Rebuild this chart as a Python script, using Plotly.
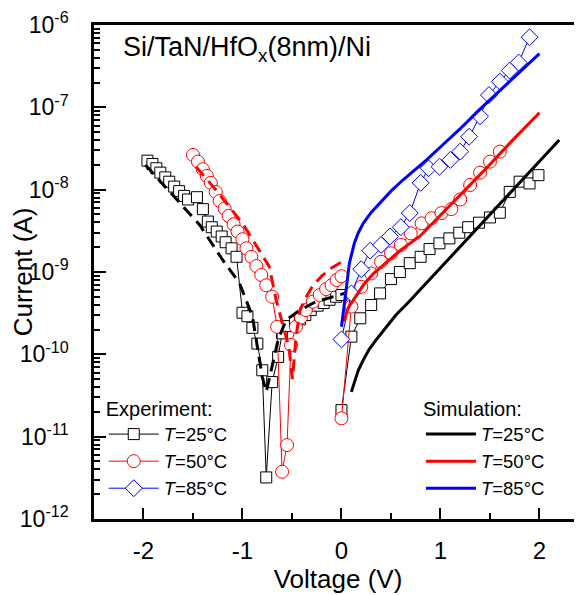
import plotly.graph_objects as go

# ---------------- data ----------------
# Experiment, T=25°C (black squares)
exp25_left_v = [-1.96, -1.91, -1.87, -1.83, -1.78, -1.74, -1.69, -1.64, -1.59, -1.55, -1.46,
                -1.40, -1.35, -1.31, -1.26, -1.21, -1.17, -1.11, -1.06, -1.00, -0.95, -0.90,
                -0.85, -0.80, -0.76, -0.70, -0.64, -0.60, -0.54, -0.47, -0.42, -0.365, -0.31,
                -0.24, -0.18, -0.12, -0.054, 0.0]
exp25_left_i = [2.25e-8, 2.05e-8, 1.82e-8, 1.61e-8, 1.41e-8, 1.25e-8, 1.09e-8, 9.6e-9, 8.4e-9,
                7.6e-9, 8.1e-9, 5.8e-9, 4.1e-9, 3.5e-9, 3.1e-9, 2.7e-9, 2.3e-9, 1.94e-9, 1.53e-9,
                3.2e-10, 2.9e-10, 2.1e-10, 1.35e-10, 6.4e-11, 3.2e-12, 4.6e-11, 9.3e-11, 1.8e-10,
                2.2e-10, 2.5e-10, 2.66e-10, 3.0e-10, 3.45e-10, 3.9e-10, 4.2e-10, 4.6e-10, 5.0e-10,
                5.25e-10]
exp25_right_v = [0.0, 0.10, 0.19, 0.30, 0.39, 0.50, 0.59, 0.69, 0.80, 0.89, 0.99, 1.09, 1.19,
                 1.28, 1.39, 1.50, 1.60, 1.70, 1.80, 1.90, 1.99]
exp25_right_i = [2.1e-11, 1.64e-10, 2.74e-10, 3.97e-10, 5.5e-10, 8.2e-10, 1.0e-9, 1.28e-9,
                 1.53e-9, 1.9e-9, 2.23e-9, 2.56e-9, 3.0e-9, 3.5e-9, 3.97e-9, 4.6e-9, 5.25e-9,
                 9.4e-9, 1.25e-8, 1.19e-8, 1.5e-8]

# Experiment, T=50°C (red circles)
exp50_left_v = [-1.50, -1.45, -1.40, -1.36, -1.32, -1.27, -1.23, -1.18, -1.14, -1.09, -1.05,
                -1.00, -0.96, -0.91, -0.86, -0.81, -0.76, -0.70, -0.65, -0.60, -0.55, -0.51,
                -0.46, -0.41, -0.36, -0.29, -0.22, -0.155, -0.10, -0.05, 0.0]
exp50_left_i = [2.64e-8, 2.19e-8, 1.77e-8, 1.47e-8, 1.21e-8, 9.4e-9, 7.3e-9, 5.9e-9, 4.8e-9,
                3.8e-9, 3.1e-9, 2.5e-9, 1.94e-9, 1.53e-9, 1.18e-9, 9.2e-10, 6.9e-10, 5.0e-10,
                2.16e-10, 3.75e-12, 7.9e-12, 1.3e-10, 2.16e-10, 2.8e-10, 3.45e-10, 4.35e-10,
                5.25e-10, 6.2e-10, 6.9e-10, 8.0e-10, 8.9e-10]
exp50_right_v = [0.0, 0.10, 0.20, 0.30, 0.40, 0.50, 0.60, 0.70, 0.81, 0.91, 1.01, 1.11, 1.20,
                 1.30, 1.40, 1.50, 1.60]
exp50_right_i = [1.67e-11, 3.8e-10, 6.6e-10, 9.6e-10, 1.33e-9, 1.69e-9, 2.13e-9, 2.95e-9,
                 3.9e-9, 4.5e-9, 5.2e-9, 5.8e-9, 7.6e-9, 1.14e-8, 1.61e-8, 2.19e-8, 2.9e-8]

# Experiment, T=85°C (blue diamonds)
exp85_v = [0.0, 0.10, 0.20, 0.29, 0.40, 0.49, 0.60, 0.69, 0.80, 0.88, 0.99, 1.10, 1.20, 1.29,
           1.40, 1.49, 1.60, 1.70, 1.79, 1.90]
exp85_i = [1.52e-10, 5.5e-10, 1.08e-9, 1.82e-9, 2.13e-9, 2.7e-9, 3.5e-9, 5.2e-9, 1.21e-8,
           1.82e-8, 1.9e-8, 2.3e-8, 2.9e-8, 4.4e-8, 7.8e-8, 1.41e-7, 2.05e-7, 2.8e-7, 3.5e-7,
           7.1e-7]

# Simulation, positive bias (solid lines)
sim25_v = [0.10, 0.13, 0.17, 0.22, 0.28, 0.35, 0.45, 0.55, 0.67, 0.79, 0.95, 1.12, 1.46, 1.80, 2.20]
sim25_i = [3.5e-11, 4.6e-11, 6.4e-11, 8.5e-11, 1.15e-10, 1.5e-10, 2.15e-10, 3.0e-10, 4.2e-10,
           6.0e-10, 9.8e-10, 1.6e-9, 4.5e-9, 1.23e-8, 4.0e-8]
sim50_v = [0.03, 0.05, 0.07, 0.10, 0.15, 0.22, 0.32, 0.45, 0.60, 0.79, 1.12, 1.46, 1.73, 2.0]
sim50_i = [2.5e-10, 3.2e-10, 3.7e-10, 4.2e-10, 5.3e-10, 6.9e-10, 9.5e-10, 1.28e-9, 1.85e-9,
           2.7e-9, 6.8e-9, 1.8e-8, 4.0e-8, 8.6e-8]
sim85_v = [0.0, 0.015, 0.03, 0.05, 0.08, 0.13, 0.17, 0.22, 0.30, 0.38, 0.50, 0.62, 0.86, 1.0,
           1.2, 1.4, 1.6, 1.8, 2.0]
sim85_i = [2.16e-10, 2.9e-10, 3.8e-10, 6.5e-10, 1.28e-9, 2.23e-9, 3.0e-9, 3.9e-9, 5.3e-9, 6.8e-9,
           9.6e-9, 1.31e-8, 2.3e-8, 3.3e-8, 5.5e-8, 9.5e-8, 1.6e-7, 2.65e-7, 4.5e-7]

# Simulation, negative bias (dashed lines)
sim25n_v = [-1.98, -1.64, -1.43, -1.20, -1.03, -0.90, -0.80, -0.76, -0.71, -0.64, -0.56, -0.42,
            -0.26, -0.09, 0.03]
sim25n_i = [2.0e-8, 7.1e-9, 3.7e-9, 1.4e-9, 7.3e-10, 2.9e-10, 5.3e-11, 3.5e-11, 6.5e-11,
            1.5e-10, 2.6e-10, 3.45e-10, 4.35e-10, 5.0e-10, 5.5e-10]
sim50n_v = [-1.47, -1.27, -1.00, -0.73, -0.66, -0.59, -0.53, -0.495, -0.46, -0.42, -0.36, -0.29,
            -0.20, -0.10, 0.0]
sim50n_i = [1.9e-8, 1.0e-8, 3.9e-9, 1.17e-9, 4.6e-10, 2.2e-10, 1.2e-10, 5.0e-11, 1.6e-10,
            3.4e-10, 4.9e-10, 6.8e-10, 8.9e-10, 1.12e-9, 1.32e-9]

# labels
legend_names = ["<i>T</i>=25°C", "<i>T</i>=50°C", "<i>T</i>=85°C"]
x_tickvals = [-2, -1, 0, 1, 2]
x_ticktext = ["-2", "-1", "0", "1", "2"]
y_tickvals = [1e-12, 1e-11, 1e-10, 1e-9, 1e-8, 1e-7, 1e-6]
y_ticktext = ["10<sup>-12</sup>", "10<sup>-11</sup>", "10<sup>-10</sup>", "10<sup>-9</sup>",
              "10<sup>-8</sup>", "10<sup>-7</sup>", "10<sup>-6</sup>"]

FONT = "Arial, 'Liberation Sans', sans-serif"
BLACK, RED, BLUE = "#000000", "#ff0000", "#0000ff"

fig = go.Figure()

def exp_trace(v, i, color, symbol, size, name, show):
    return go.Scatter(
        x=v, y=i, mode="lines+markers", name=name, showlegend=show, legend="legend",
        line=dict(color=color, width=1),
        marker=dict(symbol=symbol, size=size, color="white", line=dict(color=color, width=1)),
    )

# experiments
fig.add_trace(exp_trace(exp25_left_v, exp25_left_i, BLACK, "square", 11, legend_names[0], False))
fig.add_trace(exp_trace(exp25_right_v, exp25_right_i, BLACK, "square", 11, legend_names[0], True))
fig.add_trace(exp_trace(exp50_left_v, exp50_left_i, RED, "circle", 13, legend_names[1], False))
fig.add_trace(exp_trace(exp50_right_v, exp50_right_i, RED, "circle", 13, legend_names[1], True))
fig.add_trace(exp_trace(exp85_v, exp85_i, BLUE, "diamond", 13, legend_names[2], True))

# simulation dashed (negative bias)
fig.add_trace(go.Scatter(x=sim25n_v, y=sim25n_i, mode="lines", showlegend=False,
                         line=dict(color=BLACK, width=3, dash="12px,7px")))
fig.add_trace(go.Scatter(x=sim50n_v, y=sim50n_i, mode="lines", showlegend=False,
                         line=dict(color=RED, width=3, dash="12px,7px")))

# simulation solid
for v, i, c, n in [(sim25_v, sim25_i, BLACK, legend_names[0]),
                   (sim50_v, sim50_i, RED, legend_names[1]),
                   (sim85_v, sim85_i, BLUE, legend_names[2])]:
    fig.add_trace(go.Scatter(x=v, y=i, mode="lines", name=n, legend="legend2",
                             line=dict(color=c, width=3)))

# the page body has an 8px margin, so the figure is laid out 8px smaller
fig.update_layout(
    width=574, height=587,
    margin=dict(l=86, r=0, t=17, b=76),
    paper_bgcolor="white", plot_bgcolor="white",
    font=dict(family=FONT, color="black", size=18.5),
    legend=dict(
        title=dict(text="Experiment:", font=dict(size=20)),
        x=0.02, y=0.262, xanchor="left", yanchor="top",
        bgcolor="rgba(0,0,0,0)", font=dict(size=18.5), itemwidth=50,
        tracegroupgap=0,
    ),
    legend2=dict(
        title=dict(text="Simulation:", font=dict(size=20)),
        x=0.67, y=0.262, xanchor="left", yanchor="top",
        bgcolor="rgba(0,0,0,0)", font=dict(size=18.5), itemwidth=50,
        tracegroupgap=0,
    ),
    annotations=[dict(
        text="Si/TaN/HfO<sub>x</sub>(8nm)/Ni", xref="paper", yref="paper",
        x=0.055, y=0.99, xanchor="left", yanchor="top", showarrow=False,
        font=dict(size=27, family=FONT),
    )],
)

fig.update_xaxes(
    range=[-2.5, 2.43], tickmode="array", tickvals=x_tickvals, ticktext=x_ticktext,
    ticks="inside", ticklen=11, tickwidth=2, tickcolor="black",
    minor=dict(ticks="inside", ticklen=6, tickwidth=2, tickcolor="black",
               tickmode="array", tickvals=[-1.5, -0.5, 0.5, 1.5]),
    showline=True, linewidth=2.5, linecolor="black", mirror=True,
    showgrid=False, zeroline=False, automargin=True,
    tickfont=dict(size=24), ticklabelstandoff=8,
    title=dict(text="Voltage (V)", font=dict(size=26), standoff=7),
)

minor_y = [m * 10.0 ** e for e in range(-12, -6) for m in range(2, 10)]
fig.update_yaxes(
    type="log", range=[-12, -6], tickmode="array", tickvals=y_tickvals, ticktext=y_ticktext,
    ticks="inside", ticklen=12, tickwidth=2, tickcolor="black",
    minor=dict(ticks="inside", ticklen=6, tickwidth=2, tickcolor="black",
               tickmode="array", tickvals=minor_y),
    showline=True, linewidth=2.5, linecolor="black", mirror=False,
    showgrid=False, zeroline=False, automargin=False,
    tickfont=dict(size=23), ticklabelstandoff=18,
    title=dict(text="Current (A)", font=dict(size=26), standoff=6),
)

fig.write_html("out.html")
